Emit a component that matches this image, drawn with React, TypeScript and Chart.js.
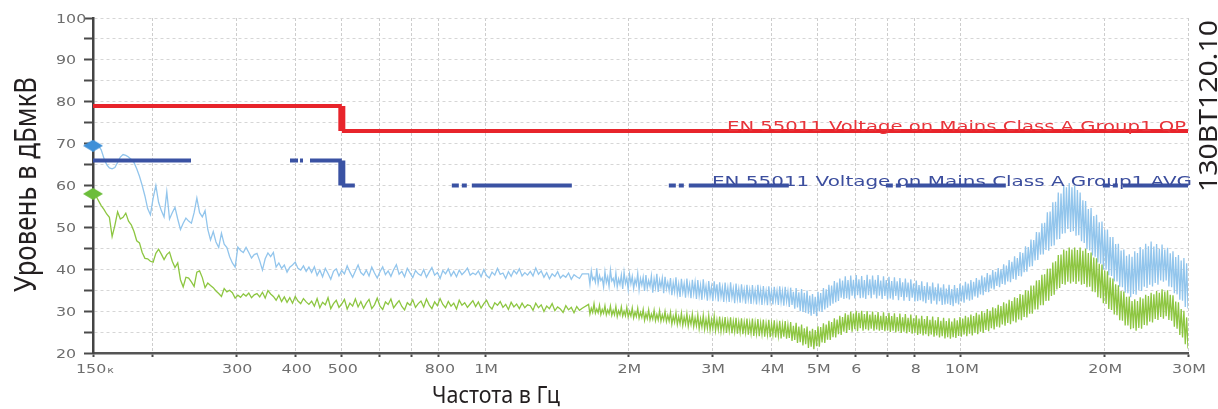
import { useEffect, useRef } from "react";
import { Chart, registerables } from "chart.js";

Chart.register(...registerables);

// ---------- data ----------
const F_START = 150e3;
const F_SPLIT_LO = 1.6e6;
const F_SPLIT_HI = 1.65e6;
const F_STOP = 30e6;

const xTickValues = [150e3, 200e3, 300e3, 400e3, 500e3, 600e3, 700e3, 800e3, 1e6, 2e6, 3e6, 4e6, 5e6, 6e6, 7e6, 8e6, 10e6, 20e6, 30e6];
const xTickLabels = ["150к", "", "300", "400", "500", "", "", "800", "1M", "2M", "3M", "4M", "5M", "6", "", "8", "10M", "20M", "30M"];
const yTickLabels = [20, 30, 40, 50, 60, 70, 80, 90, 100];

const limitFreq = [150e3, 500e3, 500e3, 30e6];
const qpLimit = [79, 79, 73, 73];
const avgLimit = [66, 66, 60, 60];

const peakStart = 69.5;
const avgStart = 58;

// peak trace, sweep 150 kHz .. 1.6 MHz (log-spaced)
const peakLow = [
  70, 70.2, 69.5, 68.5, 66.5, 65, 64.2, 64, 64.3, 65.5, 66.8, 67.4, 67.2, 66.8, 66.2, 65.5, 64, 62.2, 60, 57.5,
  54.5, 53, 57, 60, 56, 54, 52.5, 58.5, 52, 53.5, 54.8, 52, 49.5, 51, 52.2, 51.5, 51, 53.5, 57, 53.5,
  52.5, 54, 49.5, 47, 49, 46.5, 45.2, 48.6, 46, 45.2, 43, 41.5, 40.5, 45.3, 44.5, 44, 45.2, 44, 42.7, 43.5,
  43.8, 42, 39.8, 42.5, 43.9, 43, 44, 40.5, 41.5, 40.2, 41, 39.3, 40.5, 41, 41.7, 40.2, 39.8, 40.8, 39.5, 40.5,
  39.2, 40.6, 38.5, 39.8, 38.2, 40.2, 39, 37.6, 39.5, 40.1, 38.4, 39.7, 38.9, 40.8, 39.3, 38.1, 39.6, 41, 39.2, 38.6,
  39.8, 38.4, 40.5, 39.1, 37.9, 39.4, 40.6, 38.7, 39.6, 38.3, 39.9, 41.1, 38.8, 39.5, 38.2, 40.2, 39.1, 38, 39.7, 38.9,
  38.5, 39.9, 38.1, 39.3, 40.4, 38.6, 39.2, 37.8, 39.7, 38.9, 40.1, 38.4, 39.5, 38.2, 39.8, 38.7, 39.4, 40.3, 38.6, 39.1,
  38.7, 39.6, 38.2, 39.9, 38.5, 37.9, 39.3, 38.6, 40.2, 38.8, 39.1, 37.8, 39.4, 38.3, 39.7, 38.9, 40.1, 38.4, 39.2, 38.6,
  39.5, 38.4, 40.3, 38.8, 39.6, 38.1, 39.2, 37.7, 38.9, 38.3, 39.4, 37.9, 38.6, 38.1, 39.1, 37.6, 38.7, 38.2, 37.8, 38.9,
];

// peak trace, sweep 1.65 MHz .. 30 MHz (log-spaced, denser)
const peakHigh = [
  38.9, 36.4, 39.6, 37.5, 38.1, 36.9, 40.2, 36.6, 38.5, 37.3, 37.9, 35.8, 39.4, 36.8, 38.2, 35.9, 39.8, 37.2, 37.8, 36.3,
  39.1, 35.8, 37.7, 36.4, 38.6, 35.3, 39.3, 36.6, 37.9, 35.2, 38.8, 36.5, 38.3, 35.4, 37.6, 36.3, 39, 35.1, 37.8, 36.2,
  38.1, 34.8, 38.6, 35.5, 37.3, 35.9, 38.4, 34.4, 37.7, 35.6, 38.9, 34.6, 37.4, 35.7, 37.9, 34.3, 38.2, 35.3, 36.9, 34.9,
  37.9, 33.8, 36.8, 34.6, 38.1, 34.1, 36.5, 33.4, 37.7, 34.5, 36.6, 33.2, 37.8, 34.3, 36.4, 33.1, 37.5, 34.2, 36.9, 32.9,
  37.4, 33.7, 36.2, 32.7, 37.6, 33.9, 36, 32.5, 37.2, 33.6, 35.8, 32.4, 37.1, 33.7, 36.4, 32.3, 36.9, 33.4, 35.7, 32.2,
  36.8, 33.1, 35.6, 32.2, 36.9, 33.2, 35.4, 31.9, 36.6, 32.9, 35.3, 32, 36.4, 33, 35.2, 31.8, 36.3, 32.8, 35.1, 31.7,
  36.2, 32.7, 35, 31.6, 36.3, 32.6, 35.1, 31.5, 36, 32.5, 34.8, 31.4, 35.9, 32.4, 34.9, 31.6, 35.8, 32.5, 34.9, 31.5,
  35.9, 32.2, 34.8, 31.3, 35.8, 32.3, 34.7, 31, 35.6, 31.5, 34.6, 30.6, 35.5, 30.9, 34.5, 30, 35.3, 29.8, 34.4, 29.6,
  34.9, 29.4, 33.7, 28.9, 34.1, 29.3, 33.4, 28.8, 34.6, 29.9, 34.3, 29.8, 35.5, 30.4, 35.2, 30.8, 36.3, 31.3, 36.1, 31.8,
  37.2, 32.1, 36.8, 32.4, 37.8, 33.2, 37.3, 32.9, 38.3, 33.1, 37.4, 32.8, 38.5, 33.7, 37.5, 33, 38.6, 33.8, 37.6, 33.1,
  38.4, 33.2, 37.4, 32.9, 38.7, 33.8, 37.6, 33.1, 38.5, 33.9, 37.5, 33, 38.6, 33.7, 37.3, 32.9, 38.3, 33.6, 37.4, 32.8,
  38.2, 33, 37.2, 32.7, 38.1, 33.6, 37.1, 32.6, 37.9, 33.4, 36.9, 32.5, 37.8, 33.3, 36.8, 32.4, 37.6, 33.2, 36.6, 32.3,
  37.3, 32.4, 36.2, 32.6, 37.1, 32.3, 36, 31.9, 36.9, 32.7, 35.9, 31.8, 36.8, 32.5, 35.7, 31.6, 36.6, 32.4, 35.6, 31.5,
  36.4, 31.6, 35.4, 31.8, 36.3, 31.5, 35.3, 31.2, 36.2, 31.9, 35.5, 31.6, 36.5, 32.3, 36.1, 32, 37, 32.8, 36.6, 32.5,
  37.4, 32.7, 37, 33.5, 37.9, 33.2, 37.5, 34, 38.5, 33.8, 38.1, 34.6, 39.1, 34.5, 38.7, 35.4, 39.8, 35.2, 39.4, 36,
  40.3, 35.7, 40, 36.5, 41.2, 36.3, 40.9, 37.1, 42.2, 36.9, 41.8, 37.7, 43.1, 37.5, 42.7, 38.4, 44.1, 38.3, 43.9, 39.3,
  45.5, 39.4, 45.3, 40.6, 47.1, 40.7, 47, 42.1, 48.9, 42.2, 48.8, 43.5, 51, 43.5, 51.1, 44.6, 53.6, 44.4, 53.8, 45.5,
  56, 45.7, 56.1, 47.1, 58.3, 47.2, 58.1, 48.5, 60.1, 48.6, 59.6, 49.6, 60.6, 48.9, 59.6, 49.1, 60, 48, 58.9, 48.1,
  58.3, 46.7, 56.5, 46.3, 56.3, 44.8, 54.4, 44.5, 54.6, 43.3, 52.7, 43, 53, 41.6, 51.2, 41.3, 51.4, 40, 49.4, 39.9,
  49.5, 38.6, 47.7, 38.4, 47.7, 37.1, 46, 37.1, 46.1, 35.8, 44.5, 35.7, 44.7, 34.4, 43.2, 34.3, 43.6, 33.3, 43, 34.1,
  44.3, 33.9, 43.9, 35, 45.3, 34.8, 44.8, 35.8, 46.1, 35.5, 45.5, 36.3, 46.6, 35.9, 45.4, 36.7, 46, 36.3, 44.9, 37.3,
  45.9, 37, 44.7, 37.3, 45.1, 35.9, 43.8, 35.7, 44.3, 34.3, 42.9, 34, 43.4, 32.7, 42.1, 32.5, 42.7, 31, 41.4, 30.6,
];

// average trace, sweep 150 kHz .. 1.6 MHz
const avgLow = [
  58, 57.6, 56.4, 55.2, 54.3, 53.2, 52.4, 47.8, 50.5, 53.7, 52, 52.4, 53.4, 51.5, 50.6, 49, 46.8, 46.3, 44, 42.6,
  42.5, 41.9, 41.7, 43.8, 44.8, 43.6, 42.3, 43.5, 44.1, 41.9, 40.4, 41.5, 37.5, 35.8, 38.1, 37.9, 37, 35.9, 39.3, 39.6,
  38, 35.6, 36.7, 36.1, 35.6, 34.8, 34.2, 33.5, 35.4, 34.6, 35, 34.4, 33.1, 33.8, 33.3, 34.1, 33.6, 34.3, 33.2, 33.9,
  34.2, 33.4, 34.5, 33.1, 34.9, 34.1, 33.5, 32.6, 33.8, 32.3, 33.4, 32.1, 33.2, 31.9, 33.5, 32.4, 31.8, 33, 32.2, 31.6,
  32.4, 31.2, 33, 30.8, 32.1, 31.5, 33.2, 30.6, 31.8, 32.6, 30.9, 31.7, 32.8, 30.5, 31.9, 31.2, 32.9, 31, 32.3, 30.7,
  31.9, 32.8, 30.6, 31.5, 33.1, 31.2, 30.4, 32.2, 31.6, 32.9, 30.8, 31.7, 32.5, 31.1, 30.3, 32, 31.4, 32.7, 30.9, 31.8,
  32.4, 31, 32.9, 31.5, 30.6, 32.2, 31.3, 33, 31.6, 30.8, 32.3, 31.2, 31.9, 30.5, 32.6, 31.4, 32, 30.9, 31.7, 32.5,
  31.1, 32.2, 30.7, 31.8, 32.6, 31.2, 30.5, 32, 31.4, 32.3, 30.9, 31.6, 30.4, 32.1, 31, 31.7, 30.6, 31.9, 30.8, 31.5,
  31.3, 30.2, 31.9, 30.8, 31.5, 29.9, 31.2, 30.6, 31.8, 30.1, 31, 30.5, 29.7, 31.3, 30.3, 30.9, 29.6, 31.1, 30.2, 30.7,
];

// average trace, sweep 1.65 MHz .. 30 MHz
const avgHigh = [
  31.6, 29.3, 30.7, 29.7, 31.8, 29.5, 30.5, 29.6, 31.4, 29.2, 30.4, 29.5, 31.3, 29.1, 30.3, 29.4, 31.2, 29, 30.2, 29.1,
  31.1, 28.7, 30.1, 29.1, 31, 28.8, 30, 28.9, 30.9, 28.6, 29.9, 28.8, 30.8, 28.4, 29.8, 28.7, 30.7, 28.3, 29.7, 28.5,
  30.4, 27.8, 29.4, 28.2, 30.3, 27.9, 29.3, 28.1, 30.2, 27.7, 29.2, 27.9, 30.1, 27.6, 29.1, 27.8, 29.9, 27.5, 29, 27.6,
  29.7, 26.9, 28.8, 27.3, 29.6, 26.8, 28.7, 27, 29.5, 26.6, 28.6, 26.9, 29.4, 26.4, 28.5, 26.8, 29.3, 26.3, 28.4, 26.5,
  29.1, 25.8, 28.2, 26.2, 29, 25.7, 28.1, 25.9, 28.9, 25.5, 28, 25.8, 28.8, 25.4, 27.9, 25.6, 28.7, 25.2, 27.8, 25.4,
  28.6, 24.8, 27.7, 25.3, 28.5, 24.7, 27.6, 25.1, 28.4, 24.6, 27.5, 25, 28.3, 24.5, 27.4, 24.9, 28.2, 24.4, 27.3, 24.7,
  28.2, 24.1, 27.3, 24.6, 28.1, 24, 27.2, 24.5, 28, 23.9, 27.1, 24.4, 27.9, 23.8, 27, 24.3, 27.8, 23.7, 26.9, 24.1,
  27.7, 23.5, 26.8, 23.9, 27.6, 23.4, 26.7, 23.6, 27.4, 22.9, 26.5, 23.1, 27.2, 22.4, 26.3, 22.6, 26.8, 21.8, 25.9, 22.1,
  26.3, 21.2, 25.3, 21.5, 25.8, 20.9, 25.5, 21.6, 26.4, 21.5, 26.2, 22.5, 27.1, 22.4, 26.8, 23.2, 27.7, 23.1, 27.4, 23.8,
  28.3, 23.7, 28, 24.5, 28.9, 24.3, 28.6, 25.1, 29.5, 24.8, 29.1, 25.5, 29.9, 25.1, 29.4, 25.7, 30.1, 25.2, 29.6, 25.9,
  30.1, 25.3, 29.3, 25.7, 30, 25.4, 29.2, 25.8, 29.9, 25.3, 29.1, 25.6, 29.8, 25.3, 28.9, 25.5, 29.7, 25.2, 28.8, 25.4,
  29.6, 25, 28.8, 25.3, 29.5, 24.9, 28.6, 25.2, 29.4, 24.8, 28.5, 25.1, 29.3, 24.7, 28.4, 25, 29.2, 24.6, 28.3, 24.8,
  29, 24.3, 28.2, 24.6, 28.9, 24.2, 28.1, 24.5, 28.8, 24, 27.9, 24.4, 28.7, 23.9, 27.8, 24.2, 28.6, 23.7, 27.7, 24,
  28.4, 23.5, 27.6, 23.8, 28.3, 23.4, 27.5, 23.8, 28.3, 23.6, 27.8, 24.1, 28.6, 23.9, 28.2, 24.4, 28.9, 24, 28.5, 24.6,
  29.2, 24.2, 28.8, 24.8, 29.6, 24.5, 29.2, 25.1, 30, 24.8, 29.6, 25.5, 30.5, 25.2, 30.1, 25.9, 30.9, 25.6, 30.7, 26.3,
  31.5, 26.1, 31.2, 26.8, 32.1, 26.5, 31.8, 27.2, 32.7, 26.9, 32.4, 27.6, 33.3, 27.3, 33.1, 28, 34.1, 27.8, 33.9, 28.6,
  35, 28.5, 34.9, 29.4, 36.1, 29.4, 36.1, 30.4, 37.3, 30.4, 37.4, 31.4, 38.7, 31.4, 38.8, 32.4, 40.1, 32.5, 40.2, 33.6,
  41.6, 33.9, 41.9, 35.2, 43.4, 35.5, 43.5, 36.5, 44.7, 36.3, 44.4, 37, 45.2, 36.6, 44.7, 37, 45.2, 36.5, 44.6, 37.1,
  45.2, 36.3, 44.4, 36.5, 44.9, 35.7, 43.9, 35.8, 44, 34.7, 42.8, 34.5, 42.6, 33.3, 41.3, 33.1, 41.1, 31.9, 39.7, 31.7,
  39.5, 30.5, 38, 30.3, 37.8, 29.2, 36.4, 29, 36.2, 27.8, 34.8, 27.7, 34.7, 26.6, 33.4, 26.6, 33.5, 25.7, 32.4, 25.9,
  32.8, 25.3, 32.4, 26, 33.3, 25.8, 33, 26.7, 33.9, 26.6, 33.6, 27.5, 34.4, 27.3, 34, 28.1, 34.8, 27.9, 34.4, 28.6,
  35.2, 28.2, 34.7, 28.8, 35, 27.9, 33.9, 27.7, 33.8, 26.3, 32.3, 25.8, 32.1, 24.3, 30.5, 23.7, 30.1, 22.1, 28.5, 21.1,
];

const qpLabel = "EN 55011 Voltage on Mains Class A Group1 QP";
const avgLabel = "EN 55011 Voltage on Mains Class A Group1 AVG";
const yTitle = "Уровень в дБмкВ";
const xTitle = "Частота в Гц";
const figureCode = "130BT120.10";

// ---------- helpers ----------
const sweep = (values: number[], f0: number, f1: number) =>
  values.map((v, i) => ({ x: f0 * Math.pow(f1 / f0, i / (values.length - 1)), y: v }));

const pairs = (xs: number[], ys: number[]) => xs.map((x, i) => ({ x, y: ys[i] }));

function diamond(color: string, w: number, h: number) {
  const c = document.createElement("canvas");
  c.width = w;
  c.height = h;
  const g = c.getContext("2d")!;
  g.fillStyle = color;
  g.beginPath();
  g.moveTo(w / 2, 0);
  g.lineTo(w, h / 2);
  g.lineTo(w / 2, h);
  g.lineTo(0, h / 2);
  g.closePath();
  g.fill();
  return c;
}

function fitText(ctx: CanvasRenderingContext2D, text: string, x: number, y: number, width: number, font: string, color: string, rotate = 0) {
  ctx.save();
  ctx.font = font;
  ctx.fillStyle = color;
  ctx.textAlign = "left";
  ctx.textBaseline = "alphabetic";
  const m = ctx.measureText(text).width;
  ctx.translate(x, y);
  if (rotate) ctx.rotate(rotate);
  ctx.scale(width / m, 1);
  ctx.fillText(text, 0, 0);
  ctx.restore();
}

function scaledText(ctx: CanvasRenderingContext2D, text: string, x: number, y: number, sx: number) {
  ctx.save();
  ctx.translate(x, y);
  ctx.scale(sx, 1);
  ctx.fillText(text, 0, 0);
  ctx.restore();
}

const textPlugin = {
  id: "textPlugin",
  afterDraw(chart: any) {
    const { ctx, chartArea } = chart;
    const xs = chart.scales.x;
    const ys = chart.scales.y;
    const SX = 1.38;
    ctx.save();
    ctx.fillStyle = "#6d6d6d";
    ctx.textBaseline = "alphabetic";
    ctx.textAlign = "left";
    ctx.font = '11.5px "DejaVu Sans"';
    for (const v of yTickLabels) {
      const py = ys.getPixelForValue(v);
      scaledText(ctx, String(v), 56, py + 4.5, SX);
    }
    xTickValues.forEach((v, i) => {
      const lab = xTickLabels[i];
      if (!lab) return;
      const px = xs.getPixelForValue(v);
      let main = lab;
      let suf = "";
      if (lab.endsWith("к")) {
        main = lab.slice(0, -1);
        suf = "к";
      }
      ctx.font = '11.5px "DejaVu Sans"';
      const wMain = ctx.measureText(main).width * SX;
      ctx.font = '8px "DejaVu Sans"';
      const wSuf = suf ? ctx.measureText(suf).width * SX + 1 : 0;
      const start = px - (wMain + wSuf) / 2 + (suf ? 2 : 1);
      ctx.font = '11.5px "DejaVu Sans"';
      scaledText(ctx, main, start, chartArea.bottom + 20, SX);
      if (suf) {
        ctx.font = '8px "DejaVu Sans"';
        scaledText(ctx, suf, start + wMain + 1, chartArea.bottom + 20, SX);
      }
    });
    ctx.restore();

    const qpY = ys.getPixelForValue(qpLimit[qpLimit.length - 1]);
    const avY = ys.getPixelForValue(avgLimit[avgLimit.length - 1]);
    fitText(ctx, qpLabel, chartArea.right - 461, qpY, 459, '14px "DejaVu Sans"', "#e8343a");
    fitText(ctx, avgLabel, chartArea.right - 476, avY, 480, '14px "DejaVu Sans"', "#3c4e9e");

    fitText(ctx, xTitle, 432, 403, 128, '24px "Noto Sans"', "#231f20");
    fitText(ctx, yTitle, 36, 292, 215, '30px "Noto Sans"', "#231f20", -Math.PI / 2);
    fitText(ctx, figureCode, 1217, 192, 172, '25px "Noto Sans"', "#231f20", -Math.PI / 2);
  },
};

export default function App() {
  const ref = useRef<HTMLCanvasElement | null>(null);

  useEffect(() => {
    document.body.style.margin = "0";
    const canvas = ref.current!;
    const chart = new Chart(canvas, {
      type: "line",
      data: {
        datasets: [
          {
            label: "QP limit",
            data: pairs(limitFreq, qpLimit),
            borderColor: "#e8242b",
            borderWidth: 4,
            pointRadius: 0,
            segment: {
              borderWidth: (c: any) => (c.p0DataIndex === 1 ? 7 : 4),
            },
          } as any,
          {
            label: "AVG limit",
            data: pairs(limitFreq, avgLimit),
            borderColor: "#3a52a3",
            borderWidth: 4,
            pointRadius: 0,
            segment: {
              borderDash: (c: any) =>
                c.p0DataIndex === 0 ? [98, 99, 8, 2, 3, 7] : c.p0DataIndex === 1 ? [] : [100, 97, 7, 3, 5, 5],
              borderDashOffset: (c: any) => (c.p0DataIndex === 2 ? 87 : 0),
              borderWidth: (c: any) => (c.p0DataIndex === 1 ? 7 : 4),
            },
          } as any,
          {
            label: "peak start",
            data: [{ x: F_START, y: peakStart }],
            pointStyle: diamond("#3f90d8", 20, 12),
            pointRadius: 10,
            showLine: false,
            clip: false,
          } as any,
          {
            label: "avg start",
            data: [{ x: F_START, y: avgStart }],
            pointStyle: diamond("#6cbd3b", 20, 12),
            pointRadius: 10,
            showLine: false,
            clip: false,
          } as any,
          {
            label: "Average",
            data: [...sweep(avgLow, F_START, F_SPLIT_LO), ...sweep(avgHigh, F_SPLIT_HI, F_STOP)],
            borderColor: "#8dc641",
            borderWidth: 1.3,
            pointRadius: 0,
          },
          {
            label: "Peak",
            data: [...sweep(peakLow, F_START, F_SPLIT_LO), ...sweep(peakHigh, F_SPLIT_HI, F_STOP)],
            borderColor: "#92c5ec",
            borderWidth: 1.3,
            pointRadius: 0,
          },
        ],
      },
      options: {
        animation: false,
        responsive: false,
        devicePixelRatio: 1,
        layout: { padding: { top: 18, right: 30, left: 0, bottom: 0 } },
        plugins: { legend: { display: false }, tooltip: { enabled: false } },
        scales: {
          x: {
            type: "logarithmic",
            min: F_START,
            max: F_STOP,
            afterBuildTicks: (s: any) => {
              s.ticks = xTickValues.map((v) => ({ value: v }));
            },
            afterFit: (s: any) => {
              s.height = 56;
            },
            ticks: { display: false },
            grid: {
              color: "#cdcdcd",
              lineWidth: 1,
              drawTicks: true,
              tickLength: 4,
              tickColor: "#4a4a4a",
              tickWidth: 2,
            },
            border: { display: true, color: "#555555", width: 2.5, dash: [3, 2] },
          },
          y: {
            min: 20,
            max: 100,
            ticks: { display: false, stepSize: 5 },
            afterFit: (s: any) => {
              s.width = 93;
            },
            grid: {
              color: "#d6d6d6",
              lineWidth: 1,
              drawTicks: true,
              tickLength: 9,
              tickColor: "#4a4a4a",
              tickWidth: 2,
            },
            border: { display: true, color: "#444444", width: 2.5, dash: [3, 3] },
          },
        },
      } as any,
      plugins: [textPlugin],
    });
    return () => chart.destroy();
  }, []);

  return (
    <div style={{ width: 1218, height: 409, background: "#fff" }}>
      <canvas ref={ref} width={1218} height={409} style={{ width: 1218, height: 409 }} />
    </div>
  );
}
